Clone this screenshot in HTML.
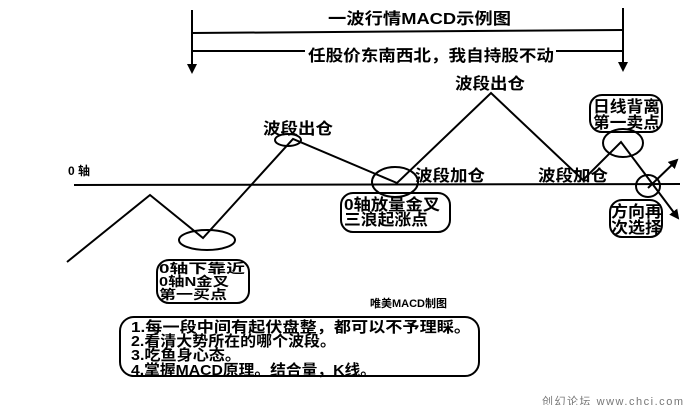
<!DOCTYPE html>
<html><head><meta charset="utf-8"><style>
body{margin:0;background:#fff;}
svg text{font-family:"Liberation Sans","Noto Sans CJK SC",sans-serif;font-weight:bold;fill:#000;}
</style></head><body>
<svg width="690" height="405" viewBox="0 0 690 405" xmlns="http://www.w3.org/2000/svg">
<defs><marker id="a" markerWidth="10" markerHeight="10" refX="8" refY="5" orient="auto" markerUnits="userSpaceOnUse"><path d="M0,0 L10,5 L0,10 Z" fill="#000"/></marker></defs>
<g stroke="#000" stroke-width="2" fill="none">
<line x1="192" y1="10" x2="192" y2="72" marker-end="url(#a)"/>
<line x1="623" y1="8" x2="623" y2="70" marker-end="url(#a)"/>
<line x1="192" y1="33" x2="623" y2="30"/>
<line x1="192" y1="51" x2="305" y2="51"/>
<line x1="556" y1="51" x2="623" y2="51"/>
<line x1="74" y1="185" x2="680" y2="184"/>
<polyline points="67,262 150,195 203,238 293,139 397,183 491,93 583,180 621,142 678,218" marker-end="url(#a)"/>
<line x1="648" y1="188" x2="677" y2="160" marker-end="url(#a)"/>
<ellipse cx="207" cy="240" rx="28" ry="10"/>
<ellipse cx="288" cy="140" rx="13" ry="6"/>
<ellipse cx="395" cy="182" rx="23" ry="15"/>
<ellipse cx="623" cy="143" rx="20" ry="14"/>
<ellipse cx="648" cy="186" rx="12" ry="11"/>
<rect x="157" y="260" width="92" height="43" rx="12"/>
<rect x="341" y="193" width="109" height="39" rx="12"/>
<rect x="590" y="95" width="72" height="37" rx="12"/>
<rect x="610" y="200" width="52" height="37" rx="12"/>
<rect x="120" y="317" width="359" height="59" rx="14"/>
</g>
<text x="328" y="24" font-size="16" textLength="183" lengthAdjust="spacingAndGlyphs">一波行情MACD示例图</text>
<text x="308" y="61" font-size="16" textLength="246" lengthAdjust="spacingAndGlyphs">任股价东南西北，我自持股不动</text>
<text x="68" y="175" font-size="12">0 轴</text>
<text x="263" y="134" font-size="16" textLength="70" lengthAdjust="spacingAndGlyphs">波段出仓</text>
<text x="455" y="89" font-size="16" textLength="70" lengthAdjust="spacingAndGlyphs">波段出仓</text>
<text x="415" y="181" font-size="16" textLength="70" lengthAdjust="spacingAndGlyphs">波段加仓</text>
<text x="538" y="181" font-size="16" textLength="70" lengthAdjust="spacingAndGlyphs">波段加仓</text>
<text x="159" y="273" font-size="13" textLength="86" lengthAdjust="spacingAndGlyphs">0轴下靠近</text>
<text x="159" y="286" font-size="13" textLength="70" lengthAdjust="spacingAndGlyphs">0轴N金叉</text>
<text x="159" y="299" font-size="13" textLength="68" lengthAdjust="spacingAndGlyphs">第一买点</text>
<text x="344" y="210" font-size="16" textLength="96" lengthAdjust="spacingAndGlyphs">0轴放量金叉</text>
<text x="344" y="225" font-size="16" textLength="84" lengthAdjust="spacingAndGlyphs">三浪起涨点</text>
<text x="593" y="112" font-size="16" textLength="67" lengthAdjust="spacingAndGlyphs">日线背离</text>
<text x="593" y="128" font-size="16" textLength="67" lengthAdjust="spacingAndGlyphs">第一卖点</text>
<text x="611" y="217" font-size="16" textLength="51" lengthAdjust="spacingAndGlyphs">方向再</text>
<text x="611" y="233" font-size="16" textLength="51" lengthAdjust="spacingAndGlyphs">次选择</text>
<text x="370" y="307" font-size="11">唯美MACD制图</text>
<text x="131" y="332" font-size="15" textLength="340" lengthAdjust="spacingAndGlyphs">1.每一段中间有起伏盘整，都可以不予理睬。</text>
<text x="131" y="346" font-size="15" textLength="205" lengthAdjust="spacingAndGlyphs">2.看清大势所在的哪个波段。</text>
<text x="131" y="360" font-size="15" textLength="110" lengthAdjust="spacingAndGlyphs">3.吃鱼身心态。</text>
<text x="131" y="375" font-size="15" textLength="245" lengthAdjust="spacingAndGlyphs">4.掌握MACD原理。结合量，K线。</text>
<text x="542" y="405" font-size="11" style="font-weight:normal;fill:#777" textLength="141">创幻论坛 www.chcj.com</text>
</svg>
</body></html>
